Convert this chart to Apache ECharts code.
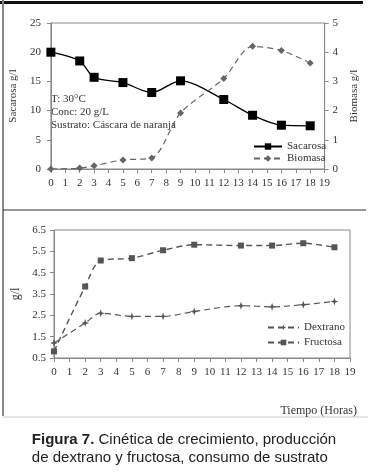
<!DOCTYPE html>
<html>
  <head>
    <title></title>
    <meta charset="UTF-8" />
    <script src="https://cdn.jsdelivr.net/npm/echarts@6/dist/echarts.min.js"></script>
    <style>
      body { margin: 0; background: #fff; }
    </style>
  </head>
  <body>
    <div id="main"></div>
    <script>
      const width = 368;
      const height = 473;
      const main = document.getElementById('main');
      main.style.width = `${width}px`;
      main.style.height = `${height}px`;

      // hours sampled
      const horas = [0, 2, 3, 5, 7, 9, 12, 14, 16, 18];
      // top panel
      const sacarosa = [20, 18.5, 15.7, 14.8, 13.1, 15.1, 11.9, 9.2, 7.5, 7.4];
      const biomasa = [0, 0.03, 0.11, 0.31, 0.38, 1.92, 3.1, 4.2, 4.06, 3.63];
      // bottom panel
      const dextrano = [1.2, 2.14, 2.6, 2.45, 2.45, 2.68, 2.95, 2.9, 3.0, 3.15];
      const fructosa = [0.81, 3.85, 5.07, 5.18, 5.55, 5.81, 5.77, 5.77, 5.88, 5.69];

      const pairs = (ys) => horas.map((h, i) => [h, ys[i]]);

      const serif = 'Liberation Serif';
      const axisLine = { lineStyle: { color: '#888', width: 1 } };
      const axisTick = { length: 4, lineStyle: { color: '#888' } };
      const axisLabel = { fontFamily: serif, fontSize: 11, color: '#333' };
      const star = 'path://M0,-5 L1.2,-1.2 L5,0 L1.2,1.2 L0,5 L-1.2,1.2 L-5,0 L-1.2,-1.2 Z';

      const myChart = echarts.init(main);
      const option = {
        backgroundColor: '#fff',
        animation: false,
        grid: [
          { left: 41, right: 39, top: 23, height: 146, show: true, borderColor: '#888', borderWidth: 1 },
          { left: 54, right: 18, top: 230, height: 128, show: true, borderColor: '#888', borderWidth: 1 },
        ],
        xAxis: [0, 1].map((g) => ({
          type: 'value',
          gridIndex: g,
          min: 0,
          max: 19,
          interval: 1,
          axisLine,
          axisTick,
          axisLabel: { ...axisLabel, margin: 9 },
          splitLine: { show: false },
        })),
        yAxis: [
          {
            type: 'value', gridIndex: 0, min: 0, max: 25, interval: 5,
            name: 'Sacarosa g/l', nameLocation: 'middle', nameGap: 22,
            nameTextStyle: { fontFamily: serif, fontSize: 11, color: '#333' },
            axisLine: { show: true, ...axisLine }, axisTick: { show: true, ...axisTick },
            axisLabel: { ...axisLabel, margin: 10 }, splitLine: { show: false },
          },
          {
            type: 'value', gridIndex: 0, position: 'right', min: 0, max: 5, interval: 1,
            name: 'Biomasa g/l', nameLocation: 'middle', nameGap: 22,
            nameTextStyle: { fontFamily: serif, fontSize: 11, color: '#333' },
            axisLine: { show: true, ...axisLine }, axisTick: { show: true, ...axisTick },
            axisLabel, splitLine: { show: false },
          },
          {
            type: 'value', gridIndex: 1, min: 0.5, max: 6.5, interval: 1,
            name: 'g/l', nameLocation: 'middle', nameGap: 21,
            nameTextStyle: { fontFamily: serif, fontSize: 12, color: '#333' },
            axisLine: { show: true, ...axisLine }, axisTick: { show: true, ...axisTick },
            axisLabel, splitLine: { show: false },
          },
        ],
        legend: [
          {
            orient: 'vertical', left: 253, top: 141, padding: 0, itemWidth: 28, itemHeight: 8, itemGap: 1,
            textStyle: { fontFamily: serif, fontSize: 11, color: '#333' },
            data: ['Sacarosa', 'Biomasa'],
          },
          {
            orient: 'vertical', left: 267, top: 322, padding: 0, itemWidth: 31, itemHeight: 7, itemGap: 4,
            textStyle: { fontFamily: serif, fontSize: 11, color: '#333' },
            data: ['Dextrano', 'Fructosa'],
          },
        ],
        series: [
          {
            name: 'Sacarosa', type: 'line', xAxisIndex: 0, yAxisIndex: 0, smooth: 0.3,
            data: pairs(sacarosa), symbol: 'rect', symbolSize: 9,
            lineStyle: { color: '#000', width: 1.3 }, itemStyle: { color: '#000' },
          },
          {
            name: 'Biomasa', type: 'line', xAxisIndex: 0, yAxisIndex: 1, smooth: 0.3,
            data: pairs(biomasa), symbol: 'diamond', symbolSize: 7,
            lineStyle: { color: '#666', width: 1.2, type: [6, 4] }, itemStyle: { color: '#666' },
          },
          {
            name: 'Dextrano', type: 'line', xAxisIndex: 1, yAxisIndex: 2, smooth: 0.3,
            data: pairs(dextrano), symbol: star, symbolSize: 8,
            lineStyle: { color: '#555', width: 1.2, type: [6, 4] }, itemStyle: { color: '#555' },
          },
          {
            name: 'Fructosa', type: 'line', xAxisIndex: 1, yAxisIndex: 2, smooth: 0.3,
            data: pairs(fructosa), symbol: 'rect', symbolSize: 6,
            lineStyle: { color: '#555', width: 1.4, type: [6, 4] }, itemStyle: { color: '#555' },
          },
        ],
        graphic: [
          { type: 'line', shape: { x1: 0, y1: 2.5, x2: 363, y2: 2.5 }, style: { stroke: '#111', lineWidth: 3 } },
          { type: 'line', shape: { x1: 3, y1: 0, x2: 3, y2: 416 }, style: { stroke: '#888', lineWidth: 2 } },
          { type: 'line', shape: { x1: 3, y1: 210, x2: 366, y2: 210 }, style: { stroke: '#333', lineWidth: 1 } },
          { type: 'line', shape: { x1: 3, y1: 417, x2: 368, y2: 417 }, style: { stroke: '#ccc', lineWidth: 1 } },
          {
            type: 'text', left: 51, top: 93,
            style: {
              text: 'T: 30°C\nConc: 20 g/L\nSustrato: Cáscara de naranja',
              font: `11px "${serif}"`, fill: '#333', lineHeight: 13,
            },
          },
          {
            type: 'text', right: 11, top: 405,
            style: { text: 'Tiempo (Horas)', font: `12px "${serif}"`, fill: '#333' },
          },
          {
            type: 'text', left: 'center', top: 431,
            style: {
              text: '{b|Figura 7.} Cinética de crecimiento, producción\nde dextrano y fructosa, consumo de sustrato',
              font: '15px "Liberation Sans"', fill: '#222', align: 'center', lineHeight: 18,
              rich: { b: { fontWeight: 'bold', fontSize: 15, fontFamily: 'Liberation Sans', fill: '#222' } },
            },
          },
        ],
      };
      myChart.setOption(option);
    </script>
  </body>
</html>
